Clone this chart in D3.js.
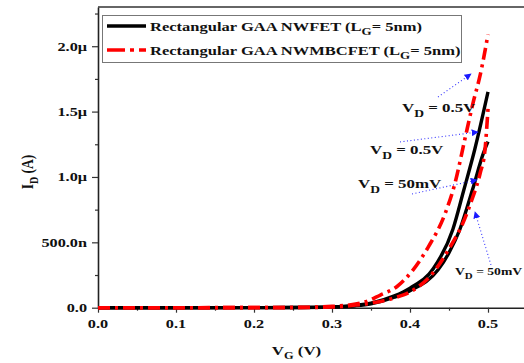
<!DOCTYPE html>
<html>
<head>
<meta charset="utf-8">
<script src="https://cdn.jsdelivr.net/npm/d3@7"></script>
<style>
  body { margin: 0; background: #fff; }
  svg { display: block; }
  text { font-family: "Liberation Serif", "Times New Roman", serif; font-weight: bold; fill: #111; }
</style>
</head>
<body>
<div id="chart"></div>
<script>
// ---- data (VG in volts, ID in amps) ----
var vgNwfetHigh = [0, 0.1, 0.2, 0.25, 0.30, 0.33, 0.35, 0.38, 0.40, 0.43, 0.455, 0.469, 0.483, 0.50];
var idNwfetHigh = [0, 0, 0.0005e-6, 0.001e-6, 0.006e-6, 0.018e-6, 0.035e-6, 0.09e-6, 0.15e-6, 0.30e-6, 0.60e-6, 0.90e-6, 1.21e-6, 1.65e-6];

var vgNwfetLow = [0, 0.1, 0.2, 0.25, 0.30, 0.33, 0.35, 0.38, 0.40, 0.436, 0.45, 0.464, 0.48, 0.494, 0.50];
var idNwfetLow = [0, 0, 0.0005e-6, 0.001e-6, 0.005e-6, 0.015e-6, 0.03e-6, 0.08e-6, 0.13e-6, 0.29e-6, 0.42e-6, 0.60e-6, 0.90e-6, 1.18e-6, 1.27e-6];

var vgMbcHigh = [0, 0.1, 0.2, 0.25, 0.30, 0.34, 0.362, 0.383, 0.404, 0.423, 0.445, 0.458, 0.47, 0.481, 0.49, 0.50];
var idMbcHigh = [0, 0, 0.001e-6, 0.002e-6, 0.01e-6, 0.04e-6, 0.097e-6, 0.16e-6, 0.29e-6, 0.46e-6, 0.72e-6, 0.96e-6, 1.28e-6, 1.57e-6, 1.78e-6, 2.09e-6];

var vgMbcLow = [0, 0.1, 0.2, 0.25, 0.30, 0.33, 0.35, 0.38, 0.40, 0.43, 0.45, 0.468, 0.479, 0.49, 0.496, 0.50];
var idMbcLow = [0, 0, 0.0005e-6, 0.001e-6, 0.005e-6, 0.02e-6, 0.035e-6, 0.075e-6, 0.12e-6, 0.27e-6, 0.45e-6, 0.65e-6, 0.82e-6, 1.03e-6, 1.20e-6, 1.52e-6];

var legendLabels = ['Rectangular GAA NWFET (L', 'Rectangular GAA NWMBCFET (L'];

var xTicks = [0, 0.1, 0.2, 0.3, 0.4, 0.5];
var xTickLabels = ['0.0', '0.1', '0.2', '0.3', '0.4', '0.5'];
var xMinor = [0.05, 0.15, 0.25, 0.35, 0.45, 0.55];
var yTicks = [0, 0.5e-6, 1.0e-6, 1.5e-6, 2.0e-6];
var yTickLabels = ['0.0', '500.0n', '1.0\u03bc', '1.5\u03bc', '2.0\u03bc'];
var yMinor = [0.25e-6, 0.75e-6, 1.25e-6, 1.75e-6, 2.25e-6];

// annotations: label position and arrow (from -> to), in data units
var noteText = ['0.5V', '0.5V', '50mV', '50mV'];
var noteAt = [[0.3897, 1.497e-6], [0.3487, 1.176e-6], [0.3333, 0.916e-6], [0.4577, 0.25e-6]];
var noteSize = [13, 13, 13, 10.5];
var arrowFrom = [[0.4359, 1.612e-6], [0.3872, 1.268e-6], [0.4026, 0.870e-6], [0.5038, 0.327e-6]];
var arrowTo = [[0.4782, 1.788e-6], [0.4872, 1.344e-6], [0.4859, 0.977e-6], [0.4833, 0.732e-6]];

// ---- layout ----
var W = 524, H = 363;
var SX = 1.3; // the source figure's text is stretched horizontally
var padL = 98, padR = 527, padT = 7, padB = 307.7;

var svg = d3.select('#chart').append('svg')
   .attr('width', W)
   .attr('height', H);

var x = d3.scaleLinear().domain([0, 0.55]).range([padL, padR]);
var y = d3.scaleLinear().domain([0, 2.3e-6]).range([padB, padT]);

svg.append('defs').append('marker')
   .attr('id', 'arr')
   .attr('viewBox', '0 0 10 10')
   .attr('refX', 9).attr('refY', 5)
   .attr('markerWidth', 7).attr('markerHeight', 7)
   .attr('markerUnits', 'userSpaceOnUse')
   .attr('orient', 'auto')
   .append('path')
   .attr('d', 'M0,0 L10,5 L0,10 Z')
   .attr('fill', '#1a1aff');

function stretched(g, px, py) {
   return g.append('g').attr('transform', 'translate(' + px + ',' + py + ') scale(' + SX + ',1)');
}

// ---- axes ----
var xAxis = svg.append('g').attr('transform', 'translate(0,' + padB + ')');
xAxis.call(d3.axisBottom(x).tickValues(xTicks).tickFormat('').tickSize(5).tickSizeOuter(0));
xAxis.append('g').call(d3.axisBottom(x).tickValues(xMinor).tickFormat('').tickSize(3).tickSizeOuter(0))
   .select('.domain').remove();

var yAxis = svg.append('g').attr('transform', 'translate(' + padL + ',0)');
yAxis.call(d3.axisLeft(y).tickValues(yTicks).tickFormat('').tickSize(6).tickSizeOuter(0));
yAxis.append('g').call(d3.axisLeft(y).tickValues(yMinor).tickFormat('').tickSize(3).tickSizeOuter(0))
   .select('.domain').remove();

svg.selectAll('.domain').attr('stroke', '#222').attr('stroke-width', 1.6);
svg.selectAll('.tick line').attr('stroke', '#333').attr('stroke-width', 1.2);

// top frame line
svg.append('line')
   .attr('x1', padL).attr('x2', W)
   .attr('y1', padT).attr('y2', padT)
   .attr('stroke', '#333').attr('stroke-width', 1.4);

xTicks.forEach(function(v, i){
   stretched(svg, x(v), padB + 20).append('text')
      .attr('text-anchor', 'middle')
      .attr('font-size', 12.5)
      .text(xTickLabels[i]);
});
yTicks.forEach(function(v, i){
   stretched(svg, padL - 11, y(v) + 4.5).append('text')
      .attr('text-anchor', 'end')
      .attr('font-size', 12.5)
      .text(yTickLabels[i]);
});

// axis titles
var xt = stretched(svg, x(0.2545), 355).append('text').attr('text-anchor', 'middle').attr('font-size', 13);
xt.append('tspan').text('V');
xt.append('tspan').attr('dy', 4).attr('font-size', 9.5).text('G');
xt.append('tspan').attr('dy', -4).text(' (V)');

var yt = svg.append('g').attr('transform', 'translate(33,' + 172 + ') scale(' + SX + ',1) rotate(-90)')
   .append('text').attr('text-anchor', 'middle').attr('font-size', 13.5);
yt.append('tspan').text('I');
yt.append('tspan').attr('dy', 4).attr('font-size', 10).text('D');
yt.append('tspan').attr('dy', -4).text(' (A)');

// ---- curves ----
var line = d3.line()
   .x(function(d){ return x(d[0]); })
   .y(function(d){ return y(d[1]); })
   .curve(d3.curveMonotoneX);

function pairs(xs, ys) { return xs.map(function(v, i){ return [v, ys[i]]; }); }

var blackSeries = [pairs(vgNwfetHigh, idNwfetHigh), pairs(vgNwfetLow, idNwfetLow)];
var redSeries = [pairs(vgMbcHigh, idMbcHigh), pairs(vgMbcLow, idMbcLow)];

svg.append('g').selectAll('path')
   .data(blackSeries)
   .enter()
   .append('path')
   .attr('d', line)
   .attr('fill', 'none')
   .attr('stroke', '#000')
   .attr('stroke-width', 3.4);

svg.append('g').selectAll('path')
   .data(redSeries)
   .enter()
   .append('path')
   .attr('d', line)
   .attr('fill', 'none')
   .attr('stroke', '#ff0000')
   .attr('stroke-width', 3.6)
   .attr('stroke-dasharray', '12,5,3,5');

// ---- annotations ----
noteText.forEach(function(t, i){
   var fs = noteSize[i];
   var g = stretched(svg, x(noteAt[i][0]), y(noteAt[i][1]));
   var tx = g.append('text').attr('font-size', fs);
   tx.append('tspan').text('V');
   tx.append('tspan').attr('dy', fs * 0.38).attr('font-size', fs * 0.8).text('D');
   tx.append('tspan').attr('dy', -fs * 0.38).text(' = ' + t);
});

svg.append('g').selectAll('line')
   .data(arrowFrom)
   .enter()
   .append('line')
   .attr('x1', function(d){ return x(d[0]); })
   .attr('y1', function(d){ return y(d[1]); })
   .attr('x2', function(d, i){ return x(arrowTo[i][0]); })
   .attr('y2', function(d, i){ return y(arrowTo[i][1]); })
   .attr('stroke', '#3333ff')
   .attr('stroke-width', 1.1)
   .attr('stroke-dasharray', '1,2.5')
   .attr('marker-end', 'url(#arr)');

// ---- legend ----
var lg = svg.append('g');
lg.append('rect')
   .attr('x', 102.5).attr('y', 15.5)
   .attr('width', 359).attr('height', 47)
   .attr('fill', '#fff')
   .attr('stroke', '#777').attr('stroke-width', 1);

[['#000', null], ['#ff0000', '18,5,4,5']].forEach(function(s, i){
   var ly = 26 + i * 24;
   lg.append('line')
      .attr('x1', 107).attr('x2', 146)
      .attr('y1', ly).attr('y2', ly)
      .attr('stroke', s[0]).attr('stroke-width', 3.4)
      .attr('stroke-dasharray', s[1]);
   var t = stretched(lg, 150, ly + 5).append('text').attr('font-size', 12.7);
   t.append('tspan').text(legendLabels[i]);
   t.append('tspan').attr('dy', 4).attr('font-size', 10).text('G');
   t.append('tspan').attr('dy', -4).text('= 5nm)');
});
</script>
</body>
</html>
